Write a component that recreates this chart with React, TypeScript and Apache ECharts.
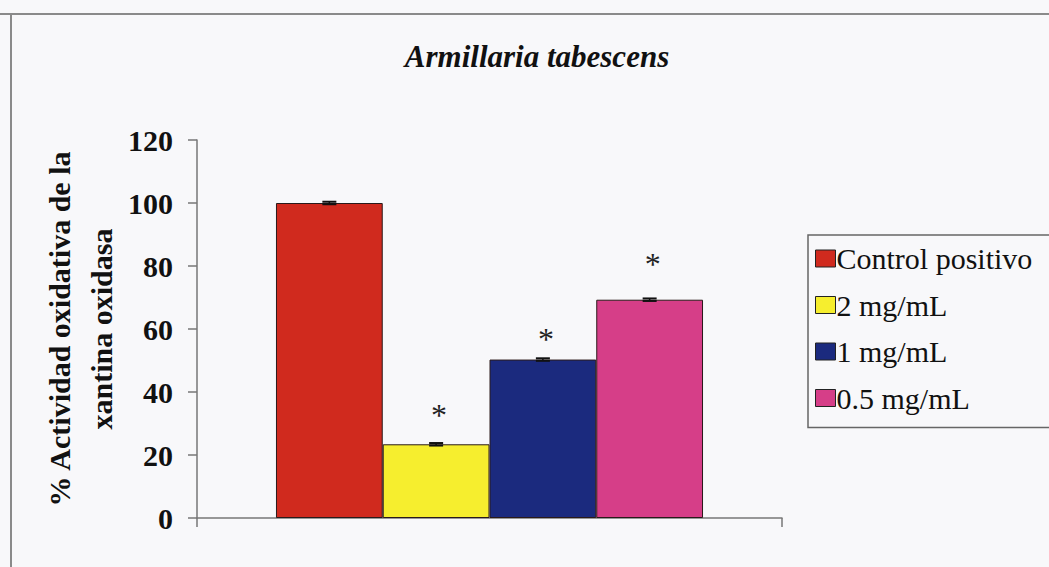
import React, { useEffect, useRef } from "react";
import * as echarts from "echarts";

const seriesNames = ["Control positivo", "2 mg/mL", "1 mg/mL", "0.5 mg/mL"];
const values = [100, 23.4, 50.3, 69.3];
const errors = [0.4, 0.4, 0.4, 0.4];
const starValues: (number | null)[] = [null, 34.8, 59.2, 83];
const colors = ["#d02a1e", "#f6ee2e", "#1b2a7e", "#d63e88"];
const yTicks = { min: 0, max: 120, interval: 20 };
const title = "Armillaria tabescens";
const yName = "% Actividad oxidativa de la\nxantina oxidasa";

const FONT = "Liberation Serif";
const GAP = 0.27;

export default function App() {
  const ref = useRef<HTMLDivElement>(null);
  useEffect(() => {
    if (!ref.current) return;
    const chart = echarts.init(ref.current, null, { renderer: "svg" });
    const barSeries = seriesNames.map((name, i) => ({
      type: "bar",
      name,
      data: [values[i]],
      barGap: "0%",
      barCategoryGap: GAP * 100 + "%",
      itemStyle: { color: colors[i], borderColor: "#2a1a1a", borderWidth: 1 },
      z: 2,
    }));
    const customData = values.map((v, i) => [0, v, errors[i], i, starValues[i] ?? -1]);
    const option: any = {
      animation: false,
      backgroundColor: "transparent",
      textStyle: { fontFamily: FONT },
      title: {
        text: title,
        left: 532,
        top: 36,
        textAlign: "center",
        textStyle: { fontFamily: FONT, fontSize: 31, fontWeight: "bold", fontStyle: "italic", color: "#111" },
      },
      legend: {
        orient: "vertical",
        left: 808,
        top: 235,
        data: seriesNames,
        icon: "rect",
        itemWidth: 20,
        itemHeight: 17,
        itemGap: 15.5,
        padding: [8, 30, 14, 7],
        borderColor: "#666",
        borderWidth: 1.5,
        textStyle: { fontFamily: FONT, fontSize: 30, color: "#111", lineHeight: 31, padding: [0, 0, 0, -4] },
        itemStyle: { borderColor: "#222", borderWidth: 1 },
        selectedMode: false,
      },
      grid: { left: 197, right: 267, top: 140, bottom: 49 },
      xAxis: {
        type: "category",
        data: [""],
        axisLine: { lineStyle: { color: "#777", width: 1.5 } },
        axisTick: { show: true, length: 9, lineStyle: { color: "#777", width: 1.5 } },
        axisLabel: { show: false },
      },
      yAxis: {
        type: "value",
        min: yTicks.min,
        max: yTicks.max,
        interval: yTicks.interval,
        splitLine: { show: false },
        axisLine: { show: true, lineStyle: { color: "#777", width: 1.5 } },
        axisTick: { show: true, length: 9, lineStyle: { color: "#777", width: 1.5 } },
        axisLabel: { fontFamily: FONT, fontSize: 30, fontWeight: "bold", color: "#111", margin: 24 },
      },
      graphic: [
        { type: "line", shape: { x1: 0, y1: 14, x2: 1049, y2: 14 }, style: { stroke: "#8a8a8a", lineWidth: 2 } },
        { type: "line", shape: { x1: 11, y1: 14, x2: 11, y2: 567 }, style: { stroke: "#8a8a8a", lineWidth: 2 } },
        {
          type: "text",
          x: 80,
          y: 329,
          rotation: Math.PI / 2,
          style: {
            text: yName,
            fontFamily: FONT,
            fontSize: 30,
            fontWeight: "bold",
            fill: "#111",
            textAlign: "center",
            textVerticalAlign: "middle",
            lineHeight: 42,
          },
        },
      ],
      series: [
        ...barSeries,
        {
          type: "custom",
          name: "extras",
          data: customData,
          z: 5,
          renderItem: (params: any, api: any) => {
            const v = api.value(1);
            const err = api.value(2);
            const idx = api.value(3);
            const star = api.value(4);
            const catW = api.size([1, 0])[0];
            const barW = (catW * (1 - GAP)) / 4;
            const c = api.coord([0, v]);
            const x = c[0] + (idx - 1.5) * barW;
            const yHi = api.coord([0, v + err])[1];
            const yLo = api.coord([0, v - err])[1];
            const children: any[] = [
              { type: "line", shape: { x1: x, y1: yHi, x2: x, y2: yLo }, style: { stroke: "#111", lineWidth: 1.5 } },
              { type: "line", shape: { x1: x - 7, y1: yHi, x2: x + 7, y2: yHi }, style: { stroke: "#111", lineWidth: 2 } },
              { type: "line", shape: { x1: x - 7, y1: yLo, x2: x + 7, y2: yLo }, style: { stroke: "#111", lineWidth: 2 } },
            ];
            if (star >= 0) {
              const sy = api.coord([0, star])[1];
              children.push({
                type: "text",
                x: x + 3,
                y: sy + 7,
                style: {
                  text: "*",
                  fontFamily: FONT,
                  fontSize: 32,
                  fill: "#222",
                  textAlign: "center",
                  textVerticalAlign: "middle",
                },
              });
            }
            return { type: "group", children };
          },
        },
      ],
    };
    chart.setOption(option);
    return () => chart.dispose();
  }, []);
  return (
    <div style={{ position: "fixed", left: 0, top: 0, width: 1049, height: 567, background: "#f8f8fa" }}>
      <div ref={ref} style={{ width: 1049, height: 567 }} />
    </div>
  );
}
